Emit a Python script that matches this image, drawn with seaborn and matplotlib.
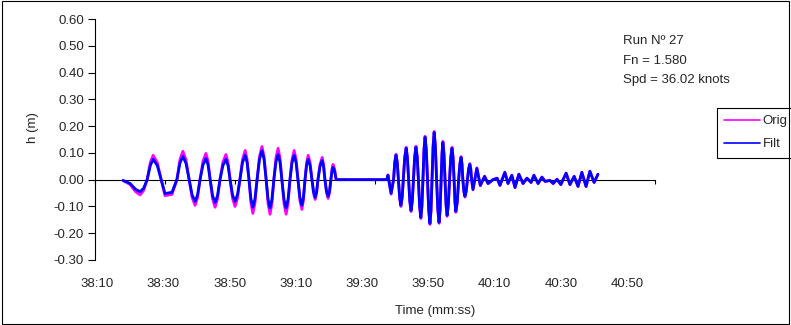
import pandas as pd
import matplotlib
matplotlib.use("Agg")
import matplotlib.pyplot as plt
import matplotlib.ticker as mticker
from matplotlib.patches import Rectangle
import seaborn as sns

# --- data (time in seconds, h in metres) ---
# first burst: peaks, troughs, zero crossings and shoulder readings
t_run1 = [
    2298.0, 2300.0, 2301.6, 2302.9, 2303.9, 2304.9, 2305.8, 2306.6, 2307.8, 2308.9,
    2310.0, 2312.0, 2313.4, 2314.25, 2315.1, 2316.0, 2316.9, 2317.75, 2318.6, 2319.3,
    2320.0, 2320.85, 2321.7, 2322.3, 2322.9, 2323.6, 2324.3, 2325.0, 2325.7, 2326.55,
    2327.4, 2328.0, 2328.6, 2329.3, 2330.0, 2330.7, 2331.4, 2332.15, 2332.9, 2333.45,
    2334.0, 2334.55, 2335.1, 2335.7, 2336.3, 2337.0, 2337.7, 2338.3, 2338.9, 2339.45,
    2340.0, 2340.55, 2341.1, 2341.7, 2342.3, 2342.85, 2343.4, 2344.0, 2344.6, 2345.15,
    2345.7, 2346.3, 2346.9, 2347.45, 2348.0, 2348.55, 2349.1, 2349.55, 2350.0, 2350.45,
    2350.9, 2351.45, 2352.0, 2352.45, 2352.9, 2353.3, 2353.7, 2354.3, 2354.9, 2355.3,
    2355.7, 2356.15, 2356.6, 2357.0, 2357.4, 2357.7, 2358.0, 2358.45, 2358.9, 2373.4,
]
orig_run1 = [
    -0.003, -0.018, -0.045, -0.057, -0.040, 0.000, 0.064, 0.091, 0.064, 0.000,
    -0.060, -0.055, 0.000, 0.074, 0.106, 0.074, 0.000, -0.067, -0.096, -0.067,
    0.000, 0.069, 0.098, 0.069, 0.000, -0.072, -0.103, -0.072, 0.000, 0.066,
    0.094, 0.066, 0.000, -0.070, -0.100, -0.070, 0.000, 0.076, 0.109, 0.076,
    0.000, -0.088, -0.126, -0.088, 0.000, 0.087, 0.124, 0.087, 0.000, -0.090,
    -0.129, -0.090, 0.000, 0.082, 0.117, 0.082, 0.000, -0.090, -0.129, -0.090,
    0.000, 0.076, 0.109, 0.076, 0.000, -0.078, -0.111, -0.078, 0.000, 0.064,
    0.091, 0.064, 0.000, -0.052, -0.074, -0.052, 0.000, 0.058, 0.083, 0.058,
    0.000, -0.049, -0.070, -0.049, 0.000, 0.040, 0.057, 0.040, 0.000, 0.000,
]
filt_run1 = [
    -0.003, -0.014, -0.036, -0.045, -0.032, 0.000, 0.053, 0.076, 0.053, 0.000,
    -0.052, -0.047, 0.000, 0.061, 0.087, 0.061, 0.000, -0.057, -0.081, -0.057,
    0.000, 0.055, 0.079, 0.055, 0.000, -0.060, -0.085, -0.060, 0.000, 0.053,
    0.076, 0.053, 0.000, -0.057, -0.081, -0.057, 0.000, 0.064, 0.091, 0.064,
    0.000, -0.072, -0.103, -0.072, 0.000, 0.076, 0.109, 0.076, 0.000, -0.074,
    -0.106, -0.074, 0.000, 0.066, 0.094, 0.066, 0.000, -0.074, -0.106, -0.074,
    0.000, 0.064, 0.091, 0.064, 0.000, -0.067, -0.096, -0.067, 0.000, 0.053,
    0.076, 0.053, 0.000, -0.046, -0.066, -0.046, 0.000, 0.050, 0.072, 0.050,
    0.000, -0.043, -0.062, -0.043, 0.000, 0.032, 0.046, 0.032, 0.000, 0.000,
]

# second burst
t_run2 = [
    2373.7, 2374.6, 2375.3, 2375.65, 2376.0, 2376.35, 2376.7, 2377.05, 2377.4, 2377.75,
    2378.1, 2378.5, 2378.9, 2379.25, 2379.6, 2379.95, 2380.3, 2380.65, 2381.0, 2381.35,
    2381.7, 2382.05, 2382.4, 2382.75, 2383.1, 2383.4, 2383.7, 2384.0, 2384.3, 2384.65,
    2385.0, 2385.35, 2385.7, 2386.0, 2386.3, 2386.6, 2386.9, 2387.25, 2387.6, 2387.95,
    2388.3, 2388.6, 2388.9, 2389.15, 2389.4, 2389.7, 2390.0, 2390.3, 2390.6, 2390.95,
    2391.3, 2391.65, 2392.0, 2392.3, 2392.6, 2392.85, 2393.1, 2393.5, 2393.9, 2394.25,
    2394.6, 2394.85, 2395.1, 2395.4, 2395.7, 2396.05, 2396.4, 2396.75, 2397.1, 2397.35,
    2397.6, 2398.0, 2399.1, 2400.1, 2401.3, 2402.3, 2403.7, 2404.9, 2405.7, 2407.1,
    2408.0, 2409.1, 2410.0, 2411.1, 2412.3, 2413.4, 2414.6, 2415.4, 2416.6, 2417.7,
    2418.6, 2420.0, 2420.9, 2422.0, 2423.1, 2424.6, 2425.7, 2426.9, 2428.0, 2429.1,
    2430.3, 2431.4, 2432.6, 2433.7,
]
orig_run2 = [
    0.018, -0.054, 0.000, 0.067, 0.095, 0.067, 0.000, -0.070, -0.100, -0.070,
    0.000, 0.085, 0.121, 0.085, 0.000, -0.083, -0.119, -0.083, 0.000, 0.088,
    0.125, 0.088, 0.000, -0.102, -0.145, -0.102, 0.000, 0.113, 0.162, 0.113,
    0.000, -0.117, -0.167, -0.117, 0.000, 0.126, 0.180, 0.126, 0.000, -0.114,
    -0.163, -0.114, 0.000, 0.100, 0.143, 0.100, 0.000, -0.096, -0.137, -0.096,
    0.000, 0.085, 0.121, 0.085, 0.000, -0.085, -0.122, -0.085, 0.000, 0.060,
    0.086, 0.060, 0.000, -0.046, -0.065, -0.046, 0.000, 0.042, 0.060, 0.042,
    0.000, -0.038, 0.044, -0.023, 0.013, -0.015, 0.000, 0.006, -0.022, 0.028,
    -0.015, 0.017, -0.030, 0.021, -0.015, 0.006, -0.011, 0.017, -0.015, 0.010,
    -0.007, -0.003, -0.015, 0.002, -0.019, 0.025, -0.019, 0.013, -0.026, 0.028,
    -0.026, 0.032, -0.011, 0.020,
]
filt_run2 = [
    0.016, -0.051, 0.000, 0.064, 0.091, 0.064, 0.000, -0.067, -0.096, -0.067,
    0.000, 0.082, 0.117, 0.082, 0.000, -0.080, -0.115, -0.080, 0.000, 0.085,
    0.121, 0.085, 0.000, -0.099, -0.141, -0.099, 0.000, 0.111, 0.158, 0.111,
    0.000, -0.114, -0.163, -0.114, 0.000, 0.123, 0.176, 0.123, 0.000, -0.111,
    -0.159, -0.111, 0.000, 0.097, 0.139, 0.097, 0.000, -0.093, -0.133, -0.093,
    0.000, 0.082, 0.117, 0.082, 0.000, -0.083, -0.118, -0.083, 0.000, 0.058,
    0.083, 0.058, 0.000, -0.043, -0.062, -0.043, 0.000, 0.040, 0.057, 0.040,
    0.000, -0.036, 0.042, -0.021, 0.012, -0.014, 0.000, 0.005, -0.021, 0.027,
    -0.014, 0.016, -0.029, 0.020, -0.014, 0.005, -0.010, 0.016, -0.014, 0.009,
    -0.006, -0.003, -0.014, 0.001, -0.018, 0.024, -0.018, 0.012, -0.025, 0.027,
    -0.025, 0.031, -0.010, 0.020,
]

y_ticks = [-0.30, -0.20, -0.10, 0.00, 0.10, 0.20, 0.30, 0.40, 0.50, 0.60]
x_ticks = [2290, 2310, 2330, 2350, 2370, 2390, 2410, 2430, 2450]

run_text = "Run Nº 27\nFn = 1.580\nSpd = 36.02 knots"

time_s = t_run1 + t_run2
df = pd.concat([
    pd.DataFrame({"t": time_s, "h": orig_run1 + orig_run2, "serie": "Orig"}),
    pd.DataFrame({"t": time_s, "h": filt_run1 + filt_run2, "serie": "Filt"}),
])

sns.set_style("white")
plt.rcParams["font.family"] = ["Liberation Sans", "DejaVu Sans"]
plt.rcParams["axes.unicode_minus"] = False
FS = 9.5

fig = plt.figure(figsize=(7.91, 3.25), dpi=100)
ax = fig.add_axes([95 / 791, 65 / 325, 560 / 791, 241 / 325])

sns.lineplot(data=df, x="t", y="h", hue="serie", hue_order=["Orig", "Filt"],
             palette={"Orig": "#FF00FF", "Filt": "#0000FF"}, linewidth=2.0,
             sort=False, estimator=None, ax=ax, zorder=3)
for ln in ax.get_lines():
    ln.set_solid_joinstyle("round")

ax.set_xlim(2290, 2450)
ax.set_ylim(-0.30, 0.60)
ax.set_yticks(y_ticks)
ax.yaxis.set_major_formatter(mticker.FormatStrFormatter("%.2f"))
ax.set_xticks(x_ticks)
ax.tick_params(axis="x", bottom=True, direction="out", length=3, width=0.8,
               color="black", labelbottom=False)
ax.tick_params(axis="y", left=True, direction="out", length=5, width=0.8,
               color="black", labelsize=FS, pad=3)

for s in ["top", "right"]:
    ax.spines[s].set_visible(False)
ax.spines["bottom"].set_position(("data", 0))
for s in ["left", "bottom"]:
    ax.spines[s].set_color("black")
    ax.spines[s].set_linewidth(0.8)


# tick labels sit a little off the tick marks in the original, like Excel drew them
def to_lab(m):
    return 2290 + (3.5 * (m - 2290) - 2) / 3.315


def from_lab(s):
    return 2290 + (3.315 * (s - 2290) + 2) / 3.5


sec = ax.secondary_xaxis(0, functions=(to_lab, from_lab))
sec.set_xticks(x_ticks)
sec.xaxis.set_major_formatter(
    mticker.FuncFormatter(lambda v, p: f"{int(round(v)) // 60}:{int(round(v)) % 60:02d}"))
sec.tick_params(axis="x", length=0, labelsize=FS, pad=13)
sec.spines["bottom"].set_visible(False)

ax.set_xlabel("Time (mm:ss)", fontsize=FS)
ax.set_ylabel("h (m)", fontsize=FS)
ax.xaxis.set_label_coords((435 - 95) / 560, (260 - 305) / 241)
ax.yaxis.set_label_coords((39 - 95) / 560, (260 - 128) / 241)

ax.text((623 - 95) / 560, (260 - 35) / 241, run_text, transform=ax.transAxes,
        ha="left", va="top", fontsize=FS, linespacing=1.85)

ax.legend(loc="upper left", bbox_to_anchor=(717 / 791, 1 - 108 / 325),
          bbox_transform=fig.transFigure, frameon=True, fancybox=False,
          edgecolor="black", framealpha=1, fontsize=FS, handlelength=2.7,
          handletextpad=0.2, borderpad=0.55, labelspacing=0.8, borderaxespad=0)
ax.get_legend().get_frame().set_linewidth(0.8)
for ln in ax.get_legend().get_lines():
    ln.set_linewidth(1.2)

fig.patches.append(Rectangle((0.002, 0.003), 0.996, 0.994, transform=fig.transFigure,
                             fill=False, edgecolor="black", linewidth=0.8))

fig.savefig("out.png", dpi=100)
